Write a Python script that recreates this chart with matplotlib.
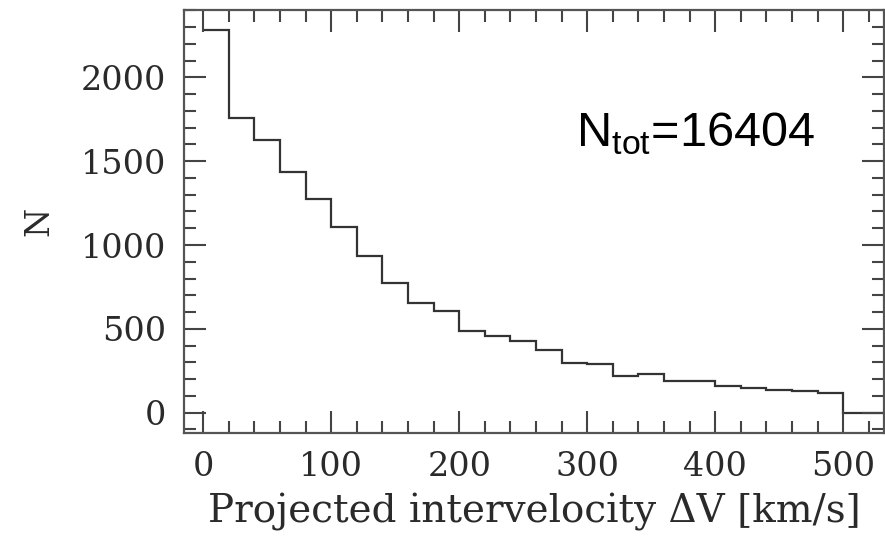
import matplotlib
matplotlib.use("Agg")
import matplotlib.pyplot as plt
import numpy as np
from matplotlib.ticker import MultipleLocator

# histogram of projected intervelocity, 20 km/s bins
bin_edges = np.arange(0, 560, 20)
counts = [2280, 1758, 1629, 1433, 1274, 1105, 935, 776, 653, 607,
          490, 458, 430, 375, 296, 288, 220, 232, 187, 187,
          157, 145, 133, 127, 117, 0, 0]
x_label = "Projected intervelocity ΔV [km/s]"
y_label = "N"
note = "N$_\\mathregular{tot}$=16404"

fig = plt.figure(figsize=(8.85, 5.39), dpi=100)
ax = fig.add_axes([0.208, 0.197, 0.791, 0.784])

ax.stairs(counts, bin_edges, baseline=None, color="#333333", linewidth=1.6)

ax.set_xlim(-15, 532)
ax.set_ylim(-120, 2400)

ax.xaxis.set_major_locator(MultipleLocator(100))
ax.xaxis.set_minor_locator(MultipleLocator(20))
ax.yaxis.set_major_locator(MultipleLocator(500))
ax.yaxis.set_minor_locator(MultipleLocator(100))

ax.tick_params(which="both", direction="in", top=True, right=True,
               color="#444444", width=1.5)
ax.tick_params(which="major", length=16, labelsize=24, pad=13,
               labelcolor="#2a2a2a")
ax.tick_params(which="minor", length=8.5)

for lbl in ax.get_xticklabels() + ax.get_yticklabels():
    lbl.set_family("DejaVu Serif")

for sp in ax.spines.values():
    sp.set_color("#555555")
    sp.set_linewidth(1.6)

ax.set_xlabel(x_label, family="DejaVu Serif", fontsize=28, color="#2a2a2a", labelpad=7)
ax.set_ylabel(y_label, family="DejaVu Serif", fontsize=24, color="#2a2a2a", labelpad=18)

ax.text(291, 1583, note, family="Liberation Sans", fontsize=35,
        ha="left", va="baseline", color="black")

fig.savefig("out.png", dpi=100)
